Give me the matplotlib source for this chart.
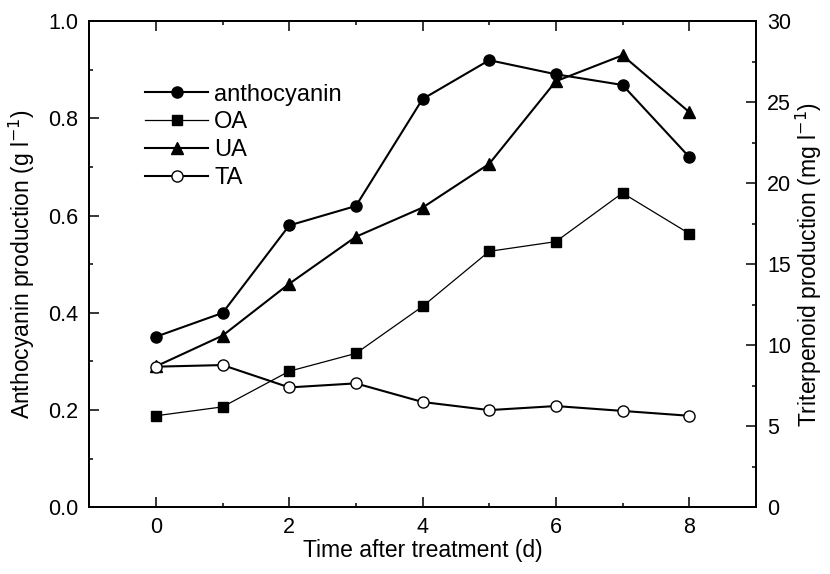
import numpy as np
import matplotlib
matplotlib.use("Agg")
import matplotlib.pyplot as plt
from matplotlib.lines import Line2D
from matplotlib.ticker import MultipleLocator

plt.rcParams['font.family'] = ['Liberation Sans', 'DejaVu Sans']

# data
days = [0, 1, 2, 3, 4, 5, 6, 7, 8]
anthocyanin = [0.351, 0.400, 0.580, 0.620, 0.840, 0.920, 0.891, 0.869, 0.721]   # g/l
oa = [5.65, 6.2, 8.4, 9.5, 12.4, 15.8, 16.4, 19.4, 16.9]                        # mg/l
ua = [8.7, 10.6, 13.8, 16.7, 18.5, 21.2, 26.3, 27.9, 24.4]
ta = [8.68, 8.78, 7.4, 7.65, 6.5, 6.0, 6.25, 5.95, 5.65]

fig = plt.figure(figsize=(8.3, 5.74), dpi=100)
ax = fig.add_axes([0.1076, 0.1162, 0.8030, 0.8467])
ax2 = ax.twinx()

ax.plot(days, anthocyanin, '-o', color='black', lw=1.5, ms=8, zorder=3)
ax2.plot(days, oa, '-s', color='black', lw=0.9, ms=6.5)
ax2.plot(days, ua, '-^', color='black', lw=1.5, ms=8)
ax2.plot(days, ta, '-o', color='black', mfc='white', mec='black', mew=1.0, lw=1.5, ms=8)

ax.set_xlim(-1, 9)
ax.set_ylim(0, 1.0)
ax2.set_ylim(0, 30)

ax.xaxis.set_major_locator(MultipleLocator(2))
ax.xaxis.set_minor_locator(MultipleLocator(1))
ax.yaxis.set_major_locator(MultipleLocator(0.2))
ax.yaxis.set_minor_locator(MultipleLocator(0.1))
ax2.yaxis.set_major_locator(MultipleLocator(5))
ax2.yaxis.set_minor_locator(MultipleLocator(2.5))
ax.yaxis.set_major_formatter(plt.FormatStrFormatter('%.1f'))

ax.tick_params(axis='both', which='major', direction='in', length=7, width=1.1, labelsize=15.5, top=True)
ax.tick_params(axis='both', which='minor', direction='in', length=3, width=1.1, top=True)
ax.tick_params(axis='y', right=False, which='both')
ax2.tick_params(axis='y', which='major', direction='in', length=7, width=1.1, labelsize=15.5)
ax2.tick_params(axis='y', which='minor', direction='in', length=3, width=1.1)
ax.tick_params(axis='x', pad=7)
ax.tick_params(axis='y', pad=8)
ax2.tick_params(axis='y', pad=8)

for a in (ax, ax2):
    for s in a.spines.values():
        s.set_linewidth(1.3)

ax.set_xlabel('Time after treatment (d)', fontsize=16.5, labelpad=1)
ax.set_ylabel('Anthocyanin production (g l$^{-1}$)', fontsize=16.5, labelpad=8)
ax2.set_ylabel('Triterpenoid production (mg l$^{-1}$)', fontsize=16.5, labelpad=2)

handles = [
    Line2D([], [], color='black', marker='o', lw=1.5, ms=8),
    Line2D([], [], color='black', marker='s', lw=0.9, ms=6.5),
    Line2D([], [], color='black', marker='^', lw=1.5, ms=8),
    Line2D([], [], color='black', marker='o', mfc='white', mew=1.0, lw=1.5, ms=8),
]
ax2.legend(handles, ['anthocyanin', 'OA', 'UA', 'TA'], loc='upper left',
           bbox_to_anchor=(0.083, 0.872), frameon=False, fontsize=17,
           handlelength=2.7, handletextpad=0.25, labelspacing=0.25,
           borderpad=0, borderaxespad=0)

fig.savefig('out.png', dpi=100)
